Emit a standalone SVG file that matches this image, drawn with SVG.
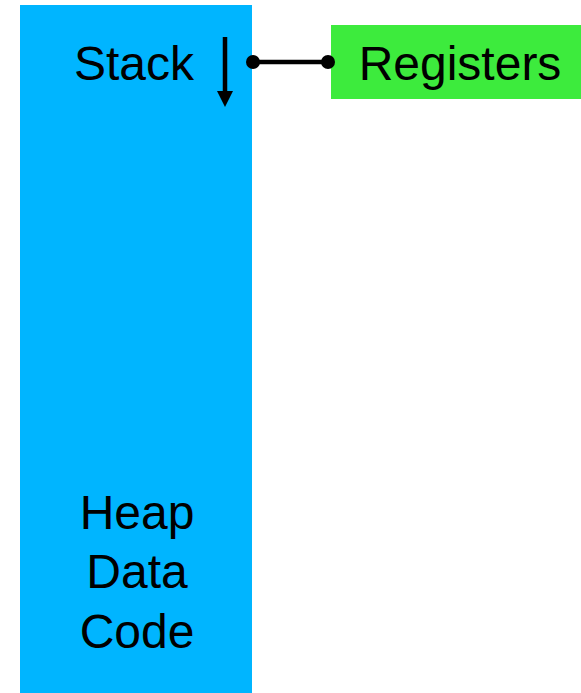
<svg xmlns="http://www.w3.org/2000/svg" width="581" height="693" viewBox="0 0 581 693">
  <style>
    .lbl { font-family: "Liberation Sans", Arial, sans-serif; font-size: 48px; fill: #000; }
    .wire { stroke: #000; stroke-width: 4.5; fill: none; }
  </style>
  <defs>
    <!-- arrowhead starts where the shaft ends -->
    <marker id="head" markerWidth="16" markerHeight="16" refX="0" refY="8" orient="auto" markerUnits="userSpaceOnUse" viewBox="0 0 16 16">
      <path d="M0,0 L16,8 L0,16 Z" fill="#000"/>
    </marker>
  </defs>
  <rect width="581" height="693" fill="#fff"/>
  <g id="memory">
    <rect x="20" y="5" width="232" height="688" fill="#00B5FF"/>
    <text class="lbl" x="134" y="80" text-anchor="middle">Stack</text>
    <text class="lbl" x="137" y="529" text-anchor="middle">Heap</text>
    <text class="lbl" x="137" y="588" text-anchor="middle">Data</text>
    <text class="lbl" x="137" y="648" text-anchor="middle">Code</text>
  </g>
  <g id="registers">
    <rect x="331" y="25" width="250" height="74" fill="#3DEB3D"/>
    <text class="lbl" x="460" y="80" text-anchor="middle">Registers</text>
  </g>
  <g id="connectors">
    <line class="wire" x1="225" y1="37" x2="225" y2="91" marker-end="url(#head)"/>
    <line class="wire" x1="253" y1="62" x2="328" y2="62"/>
    <circle cx="253" cy="62" r="7" fill="#000"/>
    <circle cx="328" cy="62" r="7" fill="#000"/>
  </g>
</svg>
